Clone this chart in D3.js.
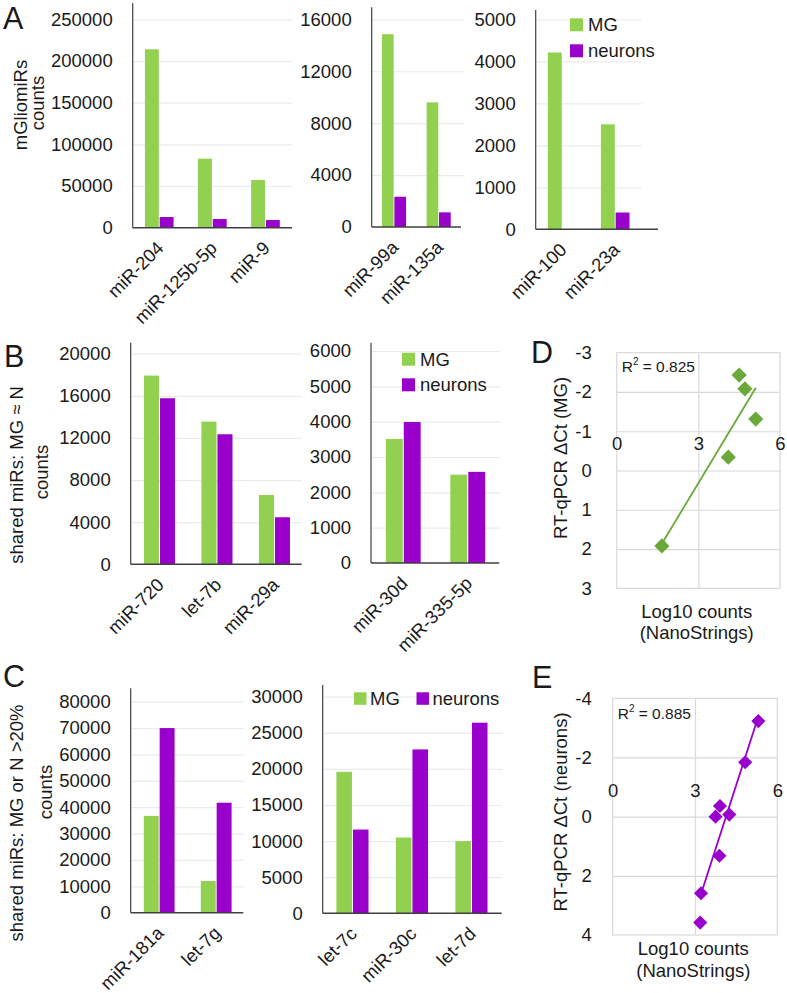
<!DOCTYPE html>
<html><head><meta charset="utf-8">
<script src="https://cdn.jsdelivr.net/npm/d3@7"></script>
<style>
body{margin:0;background:#fff}
svg{display:block}
text{font-family:"Liberation Sans",Arial,sans-serif;fill:#1a1a1a}
</style>
</head><body>
<svg id="c" width="787" height="993"></svg>
<script>
// ---------------- DATA ----------------
const seriesNames = ["MG", "neurons"];

const a1Cats = ["miR-204", "miR-125b-5p", "miR-9"];
const a1MG = [214000, 82800, 57200];
const a1N = [12800, 10400, 9200];
const a1Ticks = [0, 50000, 100000, 150000, 200000, 250000];

const a2Cats = ["miR-99a", "miR-135a"];
const a2MG = [14850, 9600];
const a2N = [2330, 1130];
const a2Ticks = [0, 4000, 8000, 12000, 16000];

const a3Cats = ["miR-100", "miR-23a"];
const a3MG = [4210, 2500];
const a3N = [8, 400];
const a3Ticks = [0, 1000, 2000, 3000, 4000, 5000];

const b1Cats = ["miR-720", "let-7b", "miR-29a"];
const b1MG = [17920, 13550, 6580];
const b1N = [15770, 12350, 4470];
const b1Ticks = [0, 4000, 8000, 12000, 16000, 20000];

const b2Cats = ["miR-30d", "miR-335-5p"];
const b2MG = [3510, 2500];
const b2N = [3990, 2580];
const b2Ticks = [0, 1000, 2000, 3000, 4000, 5000, 6000];

const c1Cats = ["miR-181a", "let-7g"];
const c1MG = [36700, 12000];
const c1N = [70000, 41700];
const c1Ticks = [0, 10000, 20000, 30000, 40000, 50000, 60000, 70000, 80000];

const c2Cats = ["let-7c", "miR-30c", "let-7d"];
const c2MG = [19600, 10500, 10000];
const c2N = [11600, 22700, 26400];
const c2Ticks = [0, 5000, 10000, 15000, 20000, 25000, 30000];

const dX = [4.50, 4.71, 5.11, 4.10, 1.66];
const dY = [-2.43, -2.08, -1.31, -0.34, 1.92];
const dR2 = "0.825";
const dYTicks = [-3, -2, -1, 0, 1, 2, 3];

const eX = [5.31, 4.83, 3.91, 3.75, 4.25, 3.89, 3.22, 3.19];
const eY = [-3.23, -1.84, -0.36, 0.00, -0.07, 1.32, 2.59, 3.58];
const eR2 = "0.885";
const eYTicks = [-4, -2, 0, 2, 4];

const scatterXTicks = [0, 3, 6];

// ---------------- STYLE ----------------
const GREEN = "#92d050", PURPLE = "#9900cc";
const SC_GREEN = "#6aa939";
const FS = 18.5;
const svg = d3.select("#c");
const plainFmt = d => String(d);

function barChart(cfg) {
  const g = svg.append("g").attr("font-size", FS).attr("font-family", '"Liberation Sans",Arial,sans-serif');
  const x = d3.scaleBand().domain(cfg.cats).range([cfg.x0, cfg.x1]).paddingInner(0.46).paddingOuter(0.23);
  const xs = d3.scaleBand().domain(seriesNames).range([0, x.bandwidth()]).paddingInner(0.06);
  const y = d3.scaleLinear().domain([0, cfg.max]).range([cfg.yBase, cfg.yMax]);

  const grid = g.append("g").attr("transform", `translate(${cfg.x0},0)`)
    .call(d3.axisLeft(y).tickValues(cfg.ticks.filter(t => t > 0)).tickSize(-(cfg.gridEnd - cfg.x0)).tickFormat(""));
  grid.select(".domain").remove();
  grid.selectAll("line").attr("stroke", "#ebebeb").attr("stroke-width", 1.2);

  const ya = g.append("g").attr("transform", `translate(${cfg.x0},0)`)
    .call(d3.axisLeft(y).tickValues(cfg.ticks).tickSize(0).tickPadding(20).tickFormat(plainFmt));
  ya.select(".domain").remove();
  ya.selectAll("text").attr("font-size", FS).attr("fill", "#1a1a1a");

  const rows = cfg.cats.map((c, i) => ({cat: c, vals: [{k: "MG", v: cfg.mg[i]}, {k: "neurons", v: cfg.n[i]}]}));
  g.append("g").selectAll("g").data(rows).join("g")
    .attr("transform", d => `translate(${x(d.cat)},0)`)
    .selectAll("rect").data(d => d.vals).join("rect")
    .attr("x", d => xs(d.k)).attr("width", xs.bandwidth())
    .attr("y", d => y(d.v)).attr("height", d => y(0) - y(d.v))
    .attr("fill", d => d.k === "MG" ? GREEN : PURPLE);

  g.append("line").attr("x1", cfg.x0).attr("x2", cfg.x0).attr("y1", cfg.axisTop).attr("y2", cfg.yBase)
    .attr("stroke", "#404040").attr("stroke-width", 1.2);
  g.append("line").attr("x1", cfg.x0).attr("x2", cfg.baseEnd).attr("y1", cfg.yBase).attr("y2", cfg.yBase)
    .attr("stroke", "#404040").attr("stroke-width", 1.5);

  const xa = g.append("g").attr("transform", `translate(0,${cfg.yBase})`)
    .call(d3.axisBottom(x).tickSize(0));
  xa.select(".domain").remove();
  xa.selectAll("text").attr("font-size", FS).attr("fill", "#1a1a1a")
    .attr("x", 0).attr("y", 0).attr("dy", "0.35em")
    .attr("transform", "translate(1,17) rotate(-45)")
    .style("text-anchor", "end");
}

function legendV(x, y, gap) {
  const g = svg.append("g");
  seriesNames.forEach((s, i) => {
    g.append("rect").attr("x", x).attr("y", y + i * gap).attr("width", 13).attr("height", 13)
      .attr("fill", i === 0 ? GREEN : PURPLE);
    g.append("text").attr("x", x + 18).attr("y", y + i * gap + 6.5).attr("dy", "0.35em")
      .attr("font-size", FS).text(s);
  });
}

function legendH(positions, y) {
  const g = svg.append("g");
  seriesNames.forEach((s, i) => {
    g.append("rect").attr("x", positions[i]).attr("y", y).attr("width", 12.5).attr("height", 12.5)
      .attr("fill", i === 0 ? GREEN : PURPLE);
    g.append("text").attr("x", positions[i] + 16).attr("y", y + 6.25).attr("dy", "0.35em")
      .attr("font-size", FS).text(s);
  });
}

function vTitle(lines) {
  lines.forEach(l => {
    svg.append("text").attr("transform", `translate(${l.x},${l.y}) rotate(-90)`)
      .attr("text-anchor", "middle").attr("font-size", FS).text(l.t);
  });
}

function letter(t, x, y) {
  svg.append("text").attr("x", x).attr("y", y).attr("font-size", 30.5).text(t);
}

function scatter(cfg) {
  const g = svg.append("g").attr("font-size", FS);
  const x = d3.scaleLinear().domain([0, 6]).range([cfg.l, cfg.r]);
  const y = d3.scaleLinear().domain(cfg.yDom).range([cfg.t, cfg.b]);

  const hg = g.append("g").attr("transform", `translate(${cfg.l},0)`)
    .call(d3.axisLeft(y).tickValues(cfg.yGrid).tickSize(-(cfg.r - cfg.l)).tickFormat(""));
  hg.select(".domain").remove();
  hg.selectAll("line").attr("stroke", "#d9d9d9").attr("stroke-width", 1.2);
  const vg = g.append("g").attr("transform", `translate(0,${cfg.b})`)
    .call(d3.axisBottom(x).tickValues([3]).tickSize(-(cfg.b - cfg.t)).tickFormat(""));
  vg.select(".domain").remove();
  vg.selectAll("line").attr("stroke", "#d9d9d9").attr("stroke-width", 1.2);
  g.append("rect").attr("x", cfg.l).attr("y", cfg.t).attr("width", cfg.r - cfg.l).attr("height", cfg.b - cfg.t)
    .attr("fill", "none").attr("stroke", "#d9d9d9").attr("stroke-width", 1.2);

  const ya = g.append("g").attr("transform", `translate(${cfg.l},0)`)
    .call(d3.axisLeft(y).tickValues(cfg.yTicks).tickSize(0).tickPadding(cfg.pad).tickFormat(plainFmt));
  ya.select(".domain").remove();
  ya.selectAll("text").attr("font-size", FS).attr("fill", "#1a1a1a");

  const xa = g.append("g").attr("transform", `translate(0,${y(cfg.xLabAt)})`)
    .call(d3.axisBottom(x).tickValues(scatterXTicks).tickSize(0).tickPadding(0).tickFormat(plainFmt));
  xa.select(".domain").remove();
  xa.selectAll("text").attr("font-size", FS).attr("fill", "#1a1a1a").attr("dy", "0.35em").attr("y", 0);

  const n = cfg.xs.length;
  const mx = d3.mean(cfg.xs), my = d3.mean(cfg.ys);
  let sxy = 0, sxx = 0;
  for (let i = 0; i < n; i++) { sxy += (cfg.xs[i] - mx) * (cfg.ys[i] - my); sxx += (cfg.xs[i] - mx) ** 2; }
  const slope = sxy / sxx, icpt = my - slope * mx;
  const [x0, x1] = d3.extent(cfg.xs);
  g.append("line").attr("x1", x(x0)).attr("y1", y(icpt + slope * x0)).attr("x2", x(x1)).attr("y2", y(icpt + slope * x1))
    .attr("stroke", cfg.color).attr("stroke-width", 1.8);

  const sym = d3.symbol().type(d3.symbolSquare).size(cfg.size);
  g.append("g").selectAll("path").data(cfg.xs.map((v, i) => [v, cfg.ys[i]])).join("path")
    .attr("d", sym).attr("transform", d => `translate(${x(d[0])},${y(d[1])}) rotate(45)`)
    .attr("fill", cfg.color);

  const rt = g.append("text").attr("x", cfg.l + 5).attr("y", cfg.r2y).attr("font-size", 15.5);
  rt.append("tspan").text("R");
  rt.append("tspan").attr("font-size", 10).attr("dy", -6.5).text("2");
  rt.append("tspan").attr("dy", 6.5).text(" = " + cfg.r2);

  g.append("text").attr("transform", `translate(${cfg.ytx},${cfg.yty}) rotate(-90)`)
    .attr("text-anchor", "middle").attr("font-size", FS).text(cfg.ytitle);
  g.append("text").attr("x", cfg.xtx).attr("y", cfg.xty1).attr("text-anchor", "middle").attr("font-size", FS).text("Log10 counts");
  g.append("text").attr("x", cfg.xtx).attr("y", cfg.xty2).attr("text-anchor", "middle").attr("font-size", FS).text("(NanoStrings)");
}

// ---------------- PANEL A ----------------
barChart({cats: a1Cats, mg: a1MG, n: a1N, ticks: a1Ticks, max: 250000,
  x0: 132.7, x1: 292, yBase: 227.7, yMax: 19.3, axisTop: 3.3, gridEnd: 292, baseEnd: 292});
barChart({cats: a2Cats, mg: a2MG, n: a2N, ticks: a2Ticks, max: 16000,
  x0: 371.7, x1: 461, yBase: 227, yMax: 19.3, axisTop: 7.3, gridEnd: 464, baseEnd: 461});
barChart({cats: a3Cats, mg: a3MG, n: a3N, ticks: a3Ticks, max: 5000,
  x0: 535.7, x1: 641.7, yBase: 229.3, yMax: 19.3, axisTop: 10, gridEnd: 641.7, baseEnd: 658});
legendV(570, 18.3, 26);
vTitle([{x: 27, y: 105, t: "mGliomiRs"}, {x: 44, y: 103, t: "counts"}]);
letter("A", 3, 29);

// ---------------- PANEL B ----------------
barChart({cats: b1Cats, mg: b1MG, n: b1N, ticks: b1Ticks, max: 20000,
  x0: 130.7, x1: 303.2, yBase: 564.3, yMax: 353.7, axisTop: 342.7, gridEnd: 301.7, baseEnd: 301.7});
barChart({cats: b2Cats, mg: b2MG, n: b2N, ticks: b2Ticks, max: 6000,
  x0: 371, x1: 500, yBase: 563, yMax: 351, axisTop: 342.7, gridEnd: 500, baseEnd: 499.3});
legendV(402, 352.7, 25.6);
vTitle([{x: 23, y: 475, t: "shared miRs: MG \u2248 N"}, {x: 48, y: 472, t: "counts"}]);
letter("B", 4, 366.7);

// ---------------- PANEL C ----------------
barChart({cats: c1Cats, mg: c1MG, n: c1N, ticks: c1Ticks, max: 80000,
  x0: 130.7, x1: 244.7, yBase: 912.7, yMax: 701.7, axisTop: 688.3, gridEnd: 243.3, baseEnd: 243.3});
barChart({cats: c2Cats, mg: c2MG, n: c2N, ticks: c2Ticks, max: 30000,
  x0: 322.7, x1: 501.2, yBase: 913.3, yMax: 696.7, axisTop: 685, gridEnd: 502.7, baseEnd: 501.7});
legendH([354, 416.5], 692.3);
vTitle([{x: 23, y: 823, t: "shared miRs: MG or N >20%"}, {x: 52, y: 792, t: "counts"}]);
letter("C", 3, 686.7);

// ---------------- PANEL D ----------------
scatter({xs: dX, ys: dY, color: SC_GREEN, size: 115, r2: dR2, r2y: 371.5,
  l: 616.7, r: 780, t: 352.7, b: 588.3, yDom: [-3, 3], yTicks: dYTicks, yGrid: [-2, -1, 0, 1, 2], pad: 25, xLabAt: -0.675,
  ytitle: "RT-qPCR \u0394Ct (MG)", ytx: 567, yty: 458, xtx: 696.7, xty1: 618, xty2: 639});
letter("D", 531, 363.3);

// ---------------- PANEL E ----------------
scatter({xs: eX, ys: eY, color: PURPLE, size: 100, r2: eR2, r2y: 718.5,
  l: 612.7, r: 777.3, t: 698.3, b: 935, yDom: [-4, 4], yTicks: eYTicks, yGrid: [-2, 0, 2], pad: 21, xLabAt: -0.9,
  ytitle: "RT-qPCR \u0394Ct (neurons)", ytx: 567, yty: 812, xtx: 693.3, xty1: 955, xty2: 977});
letter("E", 532, 688.3);
</script>
</body></html>
